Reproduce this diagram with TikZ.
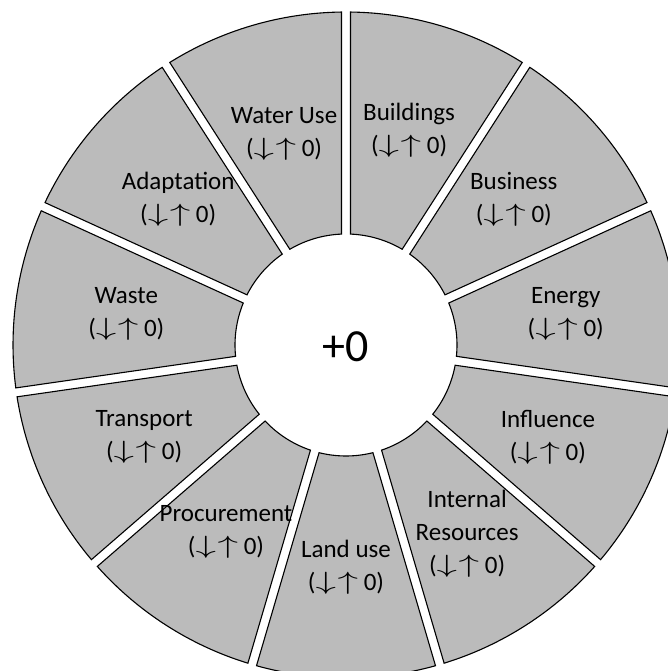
\documentclass[tikz,border=0pt]{standalone}
\usepackage{graphicx}
\usepackage{fontspec}
\setmainfont{Carlito}
\definecolor{segfill}{HTML}{BBBBBB}
\tikzset{
  seg/.style={fill=segfill, draw=black, line width=1.1pt, line join=miter},
  lab/.style={align=center, font=\fontsize{25}{33}\selectfont, inner sep=0pt},
  mid/.style={font=\fontsize{46}{50}\selectfont, inner sep=0pt}
}
\newcommand{\ud}{({\fontsize{24}{33}\selectfont\raisebox{1pt}{\scalebox{1.65}[1]{$\downarrow$}}\kern1.5pt\raisebox{1pt}{\scalebox{1.65}[1]{$\uparrow$}}} 0)}
\begin{document}
\begin{tikzpicture}[x=1pt,y=1pt]
\fill[white] (0,0) rectangle (668,671);
\useasboundingbox (0,0) rectangle (668,671);
\clip (0,0) rectangle (668,671);
\begin{scope}[shift={(346,326)}]
\foreach \k in {0,...,10}{
  \pgfmathsetmacro{\ta}{90-\k*360/11}
  \pgfmathsetmacro{\tb}{\ta-360/11}
  \pgfmathsetmacro{\oa}{\ta-asin(4.5/333)}
  \pgfmathsetmacro{\ob}{\tb+asin(4.5/333)}
  \pgfmathsetmacro{\ia}{\ta-asin(4.5/111)}
  \pgfmathsetmacro{\ib}{\tb+asin(4.5/111)}
  \draw[seg] (\ia:111pt) -- (\oa:333pt)
    arc[start angle=\oa, end angle=\ob, radius=333pt]
    -- (\ib:111pt)
    arc[start angle=\ib, end angle=\ia, radius=111pt] -- cycle;
}
\node[lab] (buildings) at ({90-0.5*360/11}:224pt) {Buildings\\\ud};
\node[lab] (business) at ({90-1.5*360/11}:222pt) {Business\\\ud};
\node[lab] (energy) at ({90-2.5*360/11}:222pt) {Energy\\\ud};
\node[lab] (influence) at ({90-3.5*360/11}:222pt) {Influence\\\ud};
\node[lab] (internal) at ({90-4.5*360/11}:224pt) {Internal\\Resources\\\ud};
\node[lab] (landuse) at ({90-5.5*360/11}:222pt) {Land use\\\ud};
\node[lab] (procurement) at ({90-6.5*360/11}:222pt) {Procurement\\\ud};
\node[lab] (transport) at ({90-7.5*360/11}:222pt) {Transport\\\ud};
\node[lab] (waste) at ({90-8.5*360/11}:222pt) {Waste\\\ud};
\node[lab] (adaptation) at ({90-9.5*360/11}:222pt) {Adaptation\\\ud};
\node[lab] (water) at ({90-10.5*360/11}:220pt) {Water Use\\\ud};
\node[mid] (total) at (0,-2) {+0};
\end{scope}
\end{tikzpicture}
\end{document}
